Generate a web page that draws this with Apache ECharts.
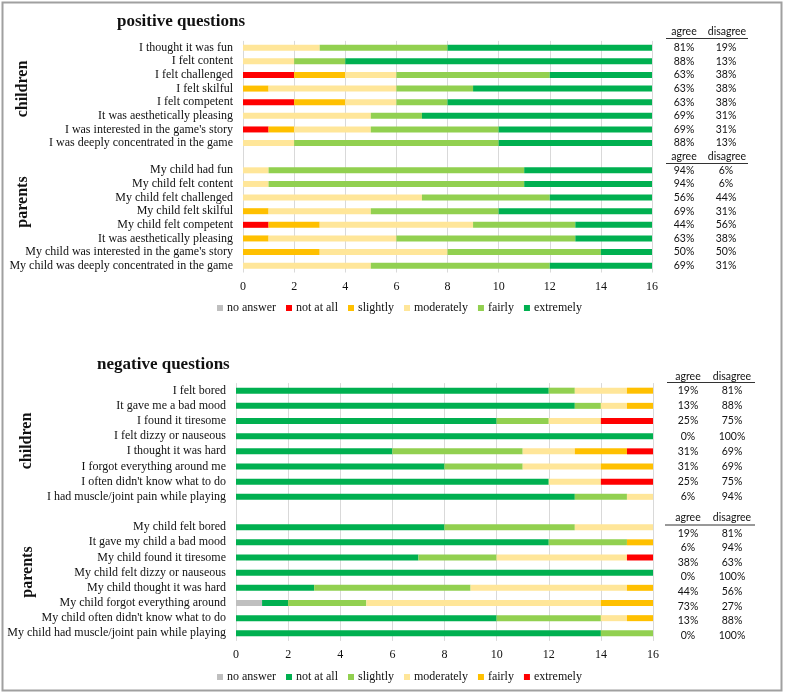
<!DOCTYPE html>
<html><head><meta charset="utf-8">
<script src="https://cdn.jsdelivr.net/npm/echarts@6/dist/echarts.min.js"></script>
<style>html,body{margin:0;padding:0;background:#fff}#c{width:785px;height:694px}</style>
</head><body><div id="c"></div>
<script>
// ---------- data ----------
const levels = ["no answer", "not at all", "slightly", "moderately", "fairly", "extremely"];
const posColors = ["#bfbfbf", "#ff0000", "#ffc000", "#ffe699", "#92d050", "#00b050"];
const negColors = ["#bfbfbf", "#00b050", "#92d050", "#ffe699", "#ffc000", "#ff0000"];
const xTicks = [0, 2, 4, 6, 8, 10, 12, 14, 16];

const posChildrenQ = ["I thought it was fun", "I felt content", "I felt challenged", "I felt skilful",
  "I felt competent", "It was aesthetically pleasing", "I was interested in the game's story",
  "I was deeply concentrated in the game"];
const posParentsQ = ["My child had fun", "My child felt content", "My child felt challenged",
  "My child felt skilful", "My child felt competent", "It was aesthetically pleasing",
  "My child was interested in the game's story", "My child was deeply concentrated in the game"];
const negChildrenQ = ["I felt bored", "It gave me a bad mood", "I found it tiresome",
  "I felt dizzy or nauseous", "I thought it was hard", "I forgot everything around me",
  "I often didn't know what to do", "I had muscle/joint pain while playing"];
const negParentsQ = ["My child felt bored", "It gave my child a bad mood", "My child found it tiresome",
  "My child felt dizzy or nauseous", "My child thought it was hard", "My child forgot everything around",
  "My child often didn't know what to do", "My child had muscle/joint pain while playing"];

// counts per question: [no answer, not at all, slightly, moderately, fairly, extremely]
const posChildrenCounts = [
  [0,0,0,3,5,8],[0,0,0,2,2,12],[0,2,2,2,6,4],[0,0,1,5,3,7],
  [0,2,2,2,2,8],[0,0,0,5,2,9],[0,1,1,3,5,6],[0,0,0,2,8,6]];
const posParentsCounts = [
  [0,0,0,1,10,5],[0,0,0,1,10,5],[0,0,0,7,5,4],[0,0,1,4,5,6],
  [0,1,2,6,4,3],[0,0,1,5,7,3],[0,0,3,5,6,2],[0,0,0,5,7,4]];
const negChildrenCounts = [
  [0,12,1,2,1,0],[0,13,1,1,1,0],[0,10,2,2,0,2],[0,16,0,0,0,0],
  [0,6,5,2,2,1],[0,8,3,3,2,0],[0,12,0,2,0,2],[0,13,2,1,0,0]];
const negParentsCounts = [
  [0,8,5,3,0,0],[0,12,3,0,1,0],[0,7,3,5,0,1],[0,16,0,0,0,0],
  [0,3,6,6,1,0],[1,1,3,9,2,0],[0,10,4,1,1,0],[0,14,2,0,0,0]];

const posChildrenAgree = ["81%","88%","63%","63%","63%","69%","69%","88%"];
const posChildrenDisagree = ["19%","13%","38%","38%","38%","31%","31%","13%"];
const posParentsAgree = ["94%","94%","56%","69%","44%","63%","50%","69%"];
const posParentsDisagree = ["6%","6%","44%","31%","56%","38%","50%","31%"];
const negChildrenAgree = ["19%","13%","25%","0%","31%","31%","25%","6%"];
const negChildrenDisagree = ["81%","88%","75%","100%","69%","69%","75%","94%"];
const negParentsAgree = ["19%","6%","38%","0%","44%","73%","13%","0%"];
const negParentsDisagree = ["81%","94%","63%","100%","56%","27%","88%","100%"];

// ---------- build ----------
const SERIF = "'Liberation Serif', 'Times New Roman', serif";
const SANS = "Lato, 'Liberation Sans', sans-serif";
const TXT = "#111";
const blank8 = ["", "", "", "", "", "", "", ""];

const posCats = posChildrenQ.concat([""], posParentsQ);
const negCats = negChildrenQ.concat([""], negParentsQ);
const posAgree = posChildrenAgree.concat([""], posParentsAgree);
const posDis = posChildrenDisagree.concat([""], posParentsDisagree);
const negAgree = negChildrenAgree.concat([""], blank8);
const negDis = negChildrenDisagree.concat([""], blank8);

function seriesFor(chIdx, kids, pars, colors) {
  return levels.map((lv, i) => ({
    type: 'bar', name: lv, stack: 's' + chIdx,
    xAxisIndex: chIdx, yAxisIndex: chIdx * 2,
    barWidth: 6, silent: true,
    itemStyle: { color: colors[i] },
    data: kids.map(r => r[i]).concat([null], pars.map(r => r[i]))
  }));
}

function xAxisFor(g) {
  return {
    gridIndex: g, type: 'value', min: xTicks[0], max: xTicks[xTicks.length - 1], interval: 2,
    axisLine: { show: false }, axisTick: { show: false },
    splitLine: { show: true, lineStyle: { color: '#d9d9d9', width: 1 } },
    axisLabel: { fontFamily: SERIF, fontSize: 12, color: TXT, margin: 8 }
  };
}
function yLeft(g, cats) {
  return {
    gridIndex: g, type: 'category', inverse: true, data: cats,
    axisLine: { show: false }, axisTick: { show: false }, splitLine: { show: false },
    axisLabel: { fontFamily: SERIF, fontSize: 12, color: TXT, margin: 10, interval: 0 }
  };
}
function yRight(g, cats, ag, dis, margin, w) {
  return {
    gridIndex: g, type: 'category', inverse: true, position: 'right', data: cats,
    axisLine: { show: false }, axisTick: { show: false }, splitLine: { show: false },
    axisLabel: {
      interval: 0, margin: margin, align: 'left',
      formatter: (v, i) => ag[i] === "" ? "" : '{a|' + ag[i] + '}{d|' + dis[i] + '}',
      rich: {
        a: { width: w, align: 'center', fontFamily: SANS, fontSize: 10.5, color: TXT },
        d: { width: w, align: 'center', fontFamily: SANS, fontSize: 10.5, color: TXT }
      }
    }
  };
}
function legendFor(top, colors) {
  return {
    top: top, left: 212, orient: 'horizontal', icon: 'rect',
    itemWidth: 6, itemHeight: 6, itemGap: 10, selectedMode: false,
    textStyle: { fontFamily: SERIF, fontSize: 12, color: TXT, padding: [0, 0, 0, -1] },
    data: levels.map((lv, i) => ({ name: lv, itemStyle: { color: colors[i] } }))
  };
}

function hdr(x, y, t) {
  return { type: 'text', x: x, y: y, style: { text: t, fontFamily: SANS, fontSize: 10.5, fill: TXT, align: 'center', verticalAlign: 'middle' } };
}
function uline(x1, x2, y) {
  return { type: 'line', shape: { x1: x1, y1: y, x2: x2, y2: y }, style: { stroke: '#333', lineWidth: 1 } };
}
function bigText(x, y, t, size, rot) {
  return { type: 'text', x: x, y: y, rotation: rot || 0,
    style: { text: t, fontFamily: SERIF, fontWeight: 'bold', fontSize: size, fill: TXT, align: rot ? 'center' : 'left', verticalAlign: 'middle' } };
}

const option = {
  animation: false,
  backgroundColor: '#fff',
  grid: [
    { left: 243, top: 40.9, width: 409, height: 231.6 },
    { left: 236, top: 383.1, width: 417, height: 257.8 },
    { left: 236, top: 526, width: 417, height: 116.6 }
  ],
  xAxis: [xAxisFor(0), xAxisFor(1), { gridIndex: 2, type: 'value', show: false, min: 0, max: 1 }],
  yAxis: [
    yLeft(0, posCats), yRight(0, posCats, posAgree, posDis, 11, 42),
    yLeft(1, negCats), yRight(1, negCats, negAgree, negDis, 13, 44),
    yRight(2, negParentsQ, negParentsAgree, negParentsDisagree, 13, 44)
  ],
  legend: [legendFor(297, posColors), legendFor(666, negColors)],
  series: seriesFor(0, posChildrenCounts, posParentsCounts, posColors)
    .concat(seriesFor(1, negChildrenCounts, negParentsCounts, negColors)),
  graphic: [
    { type: 'rect', shape: { x: 2.5, y: 2.5, width: 779, height: 688 }, style: { fill: null, stroke: '#a0a0a0', lineWidth: 2 } },
    bigText(117, 22, 'positive questions', 17),
    bigText(97, 365, 'negative questions', 17),
    bigText(23, 89, 'children', 16, Math.PI / 2),
    bigText(23, 202, 'parents', 16, Math.PI / 2),
    bigText(27, 441, 'children', 16, Math.PI / 2),
    bigText(28, 572, 'parents', 16, Math.PI / 2),
    hdr(684, 32, 'agree'), hdr(727, 32, 'disagree'), uline(666, 748, 38.5),
    hdr(684, 157, 'agree'), hdr(727, 157, 'disagree'), uline(666, 748, 163.5),
    hdr(688, 376.5, 'agree'), hdr(732, 376.5, 'disagree'), uline(667, 755, 382.5),
    hdr(688, 518, 'agree'), hdr(732, 518, 'disagree'), uline(665, 755, 525)
  ]
};

const chart = echarts.init(document.getElementById('c'), null, { renderer: 'canvas' });
chart.setOption(option);
</script></body></html>
